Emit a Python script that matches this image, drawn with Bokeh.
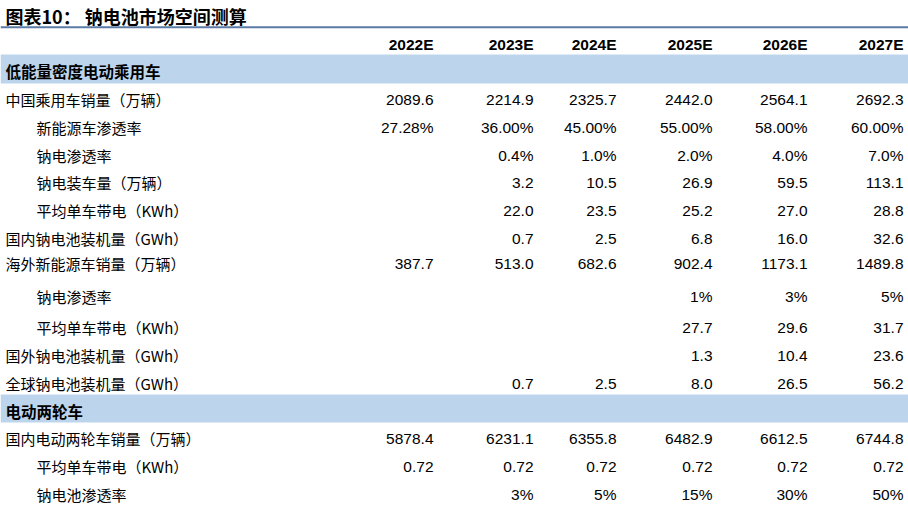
from bokeh.plotting import figure
from bokeh.models import Range1d, ColumnDataSource
from bokeh.core.properties import value
from bokeh.embed import file_html
from bokeh.resources import INLINE

# ---------------- data ----------------
title = "图表10：  钠电池市场空间测算"
years = ["2022E", "2023E", "2024E", "2025E", "2026E", "2027E"]

section1 = "低能量密度电动乘用车"
section2 = "电动两轮车"

row_labels = [
    "中国乘用车销量（万辆）",
    "新能源车渗透率",
    "钠电渗透率",
    "钠电装车量（万辆）",
    "平均单车带电（KWh）",
    "国内钠电池装机量（GWh）",
    "海外新能源车销量（万辆）",
    "钠电渗透率",
    "平均单车带电（KWh）",
    "国外钠电池装机量（GWh）",
    "全球钠电池装机量（GWh）",
    "国内电动两轮车销量（万辆）",
    "平均单车带电（KWh）",
    "钠电池渗透率",
]
row_indent = [0, 1, 1, 1, 1, 0, 0, 1, 1, 0, 0, 0, 1, 1]

cn_pv_sales = [2089.6, 2214.9, 2325.7, 2442.0, 2564.1, 2692.3]
cn_nev_pen = [27.28, 36.00, 45.00, 55.00, 58.00, 60.00]
cn_na_pen = [None, 0.4, 1.0, 2.0, 4.0, 7.0]
cn_na_cars = [None, 3.2, 10.5, 26.9, 59.5, 113.1]
cn_kwh = [None, 22.0, 23.5, 25.2, 27.0, 28.8]
cn_gwh = [None, 0.7, 2.5, 6.8, 16.0, 32.6]
os_nev_sales = [387.7, 513.0, 682.6, 902.4, 1173.1, 1489.8]
os_na_pen = [None, None, None, 1, 3, 5]
os_kwh = [None, None, None, 27.7, 29.6, 31.7]
os_gwh = [None, None, None, 1.3, 10.4, 23.6]
global_gwh = [None, 0.7, 2.5, 8.0, 26.5, 56.2]
e2w_sales = [5878.4, 6231.1, 6355.8, 6482.9, 6612.5, 6744.8]
e2w_kwh = [0.72, 0.72, 0.72, 0.72, 0.72, 0.72]
e2w_na_pen = [None, 3, 5, 15, 30, 50]

row_values = [cn_pv_sales, cn_nev_pen, cn_na_pen, cn_na_cars, cn_kwh, cn_gwh,
              os_nev_sales, os_na_pen, os_kwh, os_gwh, global_gwh,
              e2w_sales, e2w_kwh, e2w_na_pen]
row_formats = ["{:.1f}", "{:.2f}%", "{:.1f}%", "{:.1f}", "{:.1f}", "{:.1f}",
               "{:.1f}", "{:.0f}%", "{:.1f}", "{:.1f}", "{:.1f}",
               "{:.1f}", "{:.2f}", "{:.0f}%"]

# ---------------- layout (pixel-like coordinates) ----------------
W, H = 908, 509
col_right = [433, 533, 616, 712, 807, 903]
row_y = [99, 127, 155, 182, 210, 238, 263, 296, 327, 355, 383, 438, 466, 494]
label_x = [5, 36]

p = figure(width=W, height=H, output_backend="svg", toolbar_location=None,
           x_range=Range1d(0, W), y_range=Range1d(H, 0),
           x_axis_location=None, y_axis_location=None,
           min_border=0, min_border_left=0, min_border_right=0,
           min_border_top=0, min_border_bottom=0)
p.grid.visible = False
p.outline_line_color = None
p.background_fill_color = "white"

cjk = value("Noto Sans CJK SC")
lat = value("Liberation Sans")

# title and rule
p.text(x=[5], y=[15], text=[title], text_font=cjk, text_font_size="18px",
       text_font_style="bold", text_baseline="middle", text_color="#000000")
p.quad(left=[0], right=[W], top=[25.8], bottom=[27.8],
       fill_color="#5B7BA6", line_color=None)

# section bands
p.quad(left=[0, 0], right=[W, W], top=[54, 394], bottom=[83, 422],
       fill_color="#BDD5EC", line_color=None)
p.text(x=[5, 5], y=[70, 410], text=[section1, section2], text_font=cjk,
       text_font_size="15.5px", text_font_style="bold", text_baseline="middle",
       text_color="#000000")

# header years
p.text(x=col_right, y=[44] * 6, text=years, text_font=lat, text_font_size="15.5px",
       text_font_style="bold", text_align="right", text_baseline="middle",
       text_color="#000000")

# row labels
p.text(x=[label_x[i] for i in row_indent], y=row_y, text=row_labels, text_font=cjk,
       text_font_size="15px", text_baseline="middle", text_color="#000000")

# values
vx, vy, vt = [], [], []
for vals, fmt, y in zip(row_values, row_formats, row_y):
    for j, v in enumerate(vals):
        if v is None:
            continue
        vx.append(col_right[j])
        vy.append(y)
        vt.append(fmt.format(v))
src = ColumnDataSource(dict(x=vx, y=vy, t=vt))
p.text(x="x", y="y", text="t", source=src, text_font=lat, text_font_size="15.5px",
       text_align="right", text_baseline="middle", text_color="#000000")

open("out.html", "w").write(file_html(p, INLINE))
